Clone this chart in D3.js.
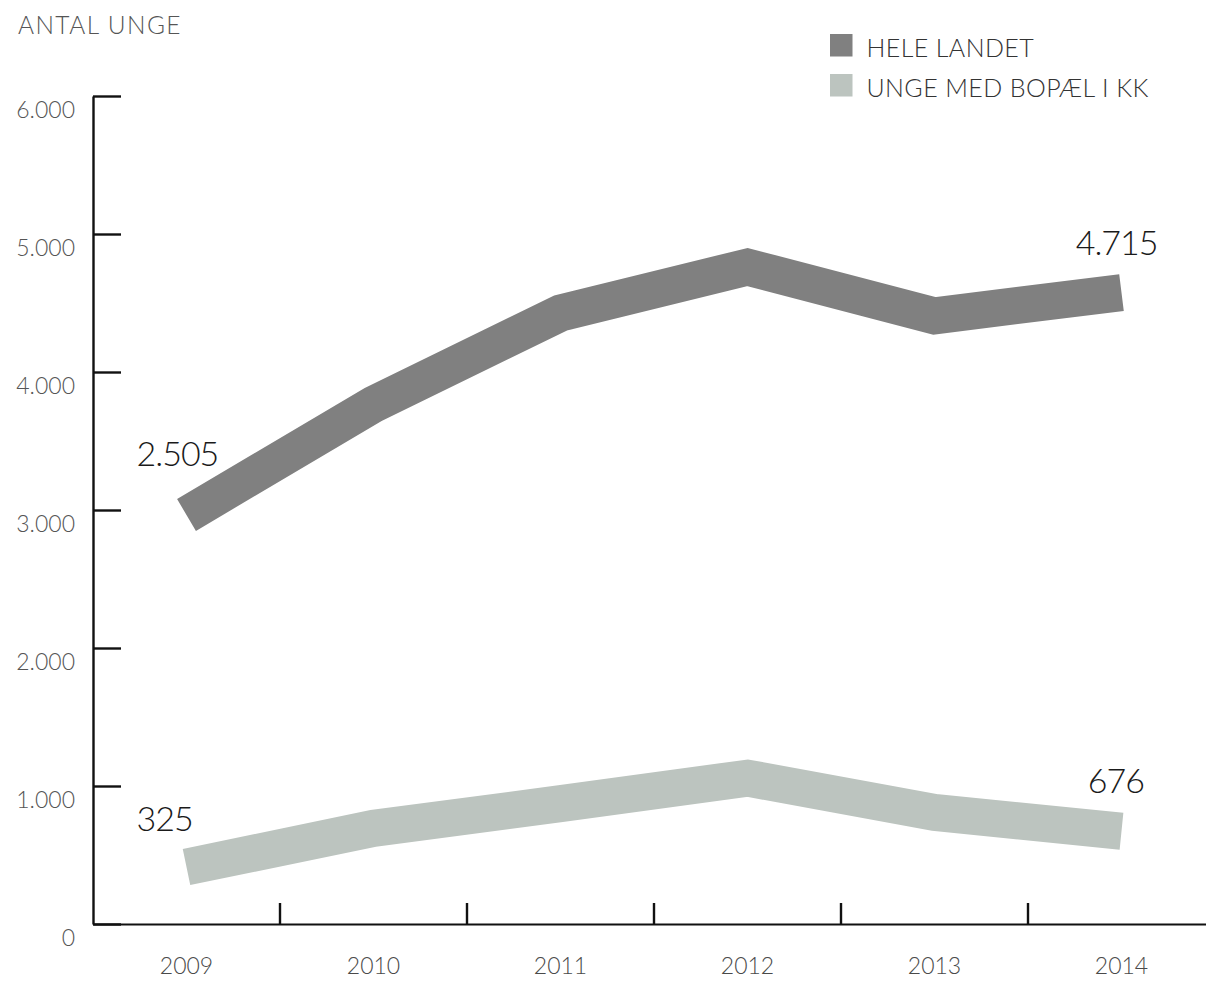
<!DOCTYPE html>
<html>
<head>
<meta charset="utf-8">
<script src="https://cdn.jsdelivr.net/npm/d3@7"></script>
<style>
  html, body { margin: 0; padding: 0; background: #fff; }
  svg { display: block; }
  text { font-family: Lato, "Open Sans", sans-serif; font-weight: 300; }
</style>
</head>
<body>
<svg id="chart" width="1206" height="981"></svg>
<script>
// ---- data ----
const years = ["2009", "2010", "2011", "2012", "2013", "2014"];
const heleLandet = [2964, 3766, 4427, 4761, 4407, 4575];
const ungeKK = [413, 693, 872, 1057, 809, 672];
const seriesNames = ["HELE LANDET", "UNGE MED BOPÆL I KK"];
const seriesColors = ["#808080", "#bcc4bf"];
const firstLabels = ["2.505", "325"];
const lastLabels = ["4.715", "676"];
const yTicks = [0, 1000, 2000, 3000, 4000, 5000, 6000];
const yTitle = "ANTAL UNGE";

// ---- layout ----
const svg = d3.select("#chart");
const x0 = 93, y0 = 924, yTop = 96, step = 187;

const x = d3.scaleBand().domain(years).range([x0, x0 + step * years.length]).paddingInner(0).paddingOuter(0);
const y = d3.scaleLinear().domain([0, 6000]).range([y0, yTop]);
const fmt = v => v === 0 ? "0" : d3.format(",")(v).replace(/,/g, ".");
const cx = d => x(d) + x.bandwidth() / 2;

// y title
svg.append("text").attr("x", 18).attr("y", 33.5)
  .attr("font-size", 24.5).attr("letter-spacing", 1.4).attr("fill", "#555").text(yTitle);

// y axis
const yAxis = d3.axisLeft(y).tickValues(yTicks).tickFormat(fmt)
  .tickSize(-28).tickSizeOuter(0).tickPadding(18);
const gy = svg.append("g").attr("transform", `translate(${x0},0)`).call(yAxis);
gy.select(".domain").attr("stroke", "#111").attr("stroke-width", 2.4);
gy.selectAll(".tick line").attr("stroke", "#111").attr("stroke-width", 2.4);
gy.selectAll(".tick text").attr("dy", 21).attr("font-size", 23).attr("fill", "#555")
  .attr("font-family", "Lato, sans-serif").attr("font-weight", 300);

// x axis
const xAxis = d3.axisBottom(x).tickSize(0).tickSizeOuter(0).tickPadding(34);
const gx = svg.append("g").attr("transform", `translate(0,${y0})`).call(xAxis);
gx.select(".domain").attr("stroke", "#111").attr("stroke-width", 2.2);
gx.selectAll(".tick text").attr("font-size", 23).attr("fill", "#4a4a4a")
  .attr("font-family", "Lato, sans-serif").attr("font-weight", 300);
// boundary ticks
gx.selectAll(".bound").data(years.slice(1)).join("line").attr("class", "bound")
  .attr("x1", d => x(d)).attr("x2", d => x(d))
  .attr("y1", 0).attr("y2", -21)
  .attr("stroke", "#111").attr("stroke-width", 2.4);

// lines
const line = d3.line().x((d, i) => cx(years[i])).y(d => y(d));
[heleLandet, ungeKK].forEach((vals, s) => {
  svg.append("path").datum(vals).attr("d", line)
    .attr("fill", "none").attr("stroke", seriesColors[s])
    .attr("stroke-width", 37).attr("stroke-linejoin", "miter").attr("stroke-miterlimit", 10)
    .attr("stroke-linecap", "butt");
});

// value labels
const series = [heleLandet, ungeKK];
const firstDy = [-49, -36];
series.forEach((vals, s) => {
  svg.append("text").attr("x", cx(years[0]) - 50).attr("y", y(vals[0]) + firstDy[s])
    .attr("font-size", 34).attr("letter-spacing", -1).attr("fill", "#1a1a1a").text(firstLabels[s]);
  const last = vals.length - 1;
  svg.append("text").attr("x", cx(years[last]) + (s === 0 ? 36 : 22.5)).attr("y", y(vals[last]) - 38)
    .attr("text-anchor", "end").attr("font-size", 34).attr("letter-spacing", -1)
    .attr("fill", "#1a1a1a").text(lastLabels[s]);
});

// legend
const lg = svg.append("g").attr("transform", "translate(830,34)");
seriesNames.forEach((n, i) => {
  lg.append("rect").attr("x", 0).attr("y", i * 40).attr("width", 22.5).attr("height", 22.5)
    .attr("fill", seriesColors[i]);
  lg.append("text").attr("x", 36.5).attr("y", i * 40 + 22.5)
    .attr("font-size", 25).attr("letter-spacing", 0.4).attr("fill", "#333").text(n);
});
</script>
</body>
</html>
